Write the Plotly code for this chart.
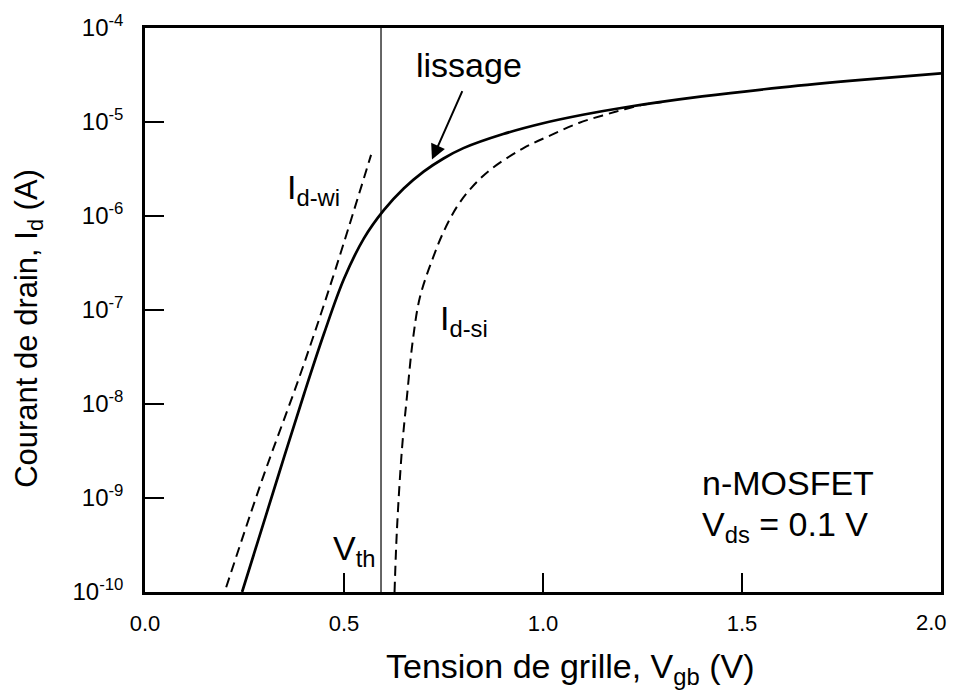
import plotly.graph_objects as go

# ---- data ----
vth = 0.593

v_smooth = [0.244, 0.30, 0.35, 0.40, 0.45, 0.50, 0.55, 0.60, 0.65, 0.70, 0.75, 0.80,
            0.90, 1.00, 1.10, 1.20, 1.40, 1.60, 1.80, 2.00]
logi_smooth = [-10.0, -9.238, -8.558, -7.888, -7.248, -6.668, -6.238, -5.938, -5.708,
               -5.528, -5.388, -5.278, -5.128, -5.013, -4.923, -4.848, -4.728, -4.632,
               -4.552, -4.482]

v_wi = [0.204, 0.294, 0.389, 0.470, 0.568]
logi_wi = [-9.95, -8.81, -7.70, -6.68, -5.35]

v_si = [0.627, 0.633, 0.646, 0.658, 0.673, 0.691, 0.724, 0.75, 0.784, 0.82, 0.867,
        0.95, 1.02, 1.09, 1.15, 1.20, 1.25, 1.30]
logi_si = [-10.0, -9.34, -8.46, -7.93, -7.32, -6.86, -6.44, -6.17, -5.90, -5.70, -5.51,
           -5.28, -5.14, -5.01, -4.93, -4.87, -4.818, -4.788]

y_tick_exp = [-10, -9, -8, -7, -6, -5, -4]
x_ticks = [0.0, 0.5, 1.0, 1.5, 2.0]
x_ticktext = ["0.0", "0.5", "1.0", "1.5", "2.0"]

FONT = "Liberation Sans, Arial, Helvetica, sans-serif"

fig = go.Figure()

fig.add_trace(go.Scatter(x=[vth, vth], y=[1e-10, 1e-4], mode="lines",
                         line=dict(color="black", width=1.2), showlegend=False))
fig.add_trace(go.Scatter(x=v_wi, y=[10 ** e for e in logi_wi], mode="lines",
                         line=dict(color="black", width=2, dash="10px,6px", shape="spline"),
                         showlegend=False))
fig.add_trace(go.Scatter(x=v_si, y=[10 ** e for e in logi_si], mode="lines",
                         line=dict(color="black", width=2, dash="10px,6px", shape="spline"),
                         showlegend=False))
fig.add_trace(go.Scatter(x=v_smooth, y=[10 ** e for e in logi_smooth], mode="lines",
                         line=dict(color="black", width=2.7, shape="spline"),
                         showlegend=False))

ann_font = dict(family=FONT, size=34, color="black")
annotations = [
    dict(x=0.814, y=-4.39, text="lissage", showarrow=False, font=ann_font,
         xanchor="center", yanchor="middle"),
    dict(x=0.721, y=-5.40, text="", showarrow=True, ax=31, ay=-70,
         arrowhead=2, arrowsize=1.5, arrowwidth=2, arrowcolor="black"),
    dict(x=0.352, y=-5.72, text="I<sub>d-wi</sub>", showarrow=False, font=ann_font,
         xanchor="left", yanchor="middle"),
    dict(x=0.736, y=-7.11, text="I<sub>d-si</sub>", showarrow=False, font=ann_font,
         xanchor="left", yanchor="middle"),
    dict(x=0.468, y=-9.56, text="V<sub>th</sub>", showarrow=False, font=ann_font,
         xanchor="left", yanchor="middle"),
    dict(x=1.616, y=-8.84, text="n-MOSFET", showarrow=False, font=ann_font,
         xanchor="center", yanchor="middle"),
    dict(x=1.608, y=-9.30, text="V<sub>ds</sub> = 0.1 V", showarrow=False, font=ann_font,
         xanchor="center", yanchor="middle"),
    dict(xref="paper", yref="paper", x=0.534, y=-0.135,
         text="Tension de grille, V<sub>gb</sub> (V)", showarrow=False,
         font=dict(family=FONT, size=34, color="black"),
         xanchor="center", yanchor="middle"),
    dict(xref="paper", yref="paper", x=-0.146, y=0.468,
         text="Courant de drain, I<sub>d</sub> (A)", showarrow=False, textangle=-90,
         font=dict(family=FONT, size=31, color="black"),
         xanchor="center", yanchor="middle"),
    # last x tick label, kept just inside the visible page edge
    dict(x=x_ticks[-1], xref="x", yref="paper", y=-0.0532, text=x_ticktext[-1],
         showarrow=False, xanchor="right", yanchor="middle", xshift=8,
         font=dict(family=FONT, size=22, color="black")),
]

fig.update_layout(
    width=960, height=691,
    margin=dict(l=137, r=27, t=20, b=107, autoexpand=False),
    paper_bgcolor="white", plot_bgcolor="white",
    font=dict(family=FONT, color="black"),
    annotations=annotations,
    xaxis=dict(range=[0, 2.0], tickvals=x_ticks, ticktext=x_ticktext[:-1] + [""],
               ticks="inside", ticklen=19, tickwidth=2, tickcolor="black",
               showline=True, linewidth=2.5, linecolor="black", mirror=True,
               showgrid=False, zeroline=False, ticklabelstandoff=10, automargin=False,
               tickfont=dict(family=FONT, size=22)),
    yaxis=dict(type="log", range=[-10, -4], tickvals=[10 ** e for e in y_tick_exp],
               ticktext=[f"10<sup>{e}</sup>" for e in y_tick_exp],
               ticks="inside", ticklen=19, tickwidth=2, tickcolor="black",
               showline=True, linewidth=2.5, linecolor="black", mirror=True,
               showgrid=False, zeroline=False, ticklabelstandoff=14, automargin=False,
               tickfont=dict(family=FONT, size=24)),
)

fig.write_html("out.html")
